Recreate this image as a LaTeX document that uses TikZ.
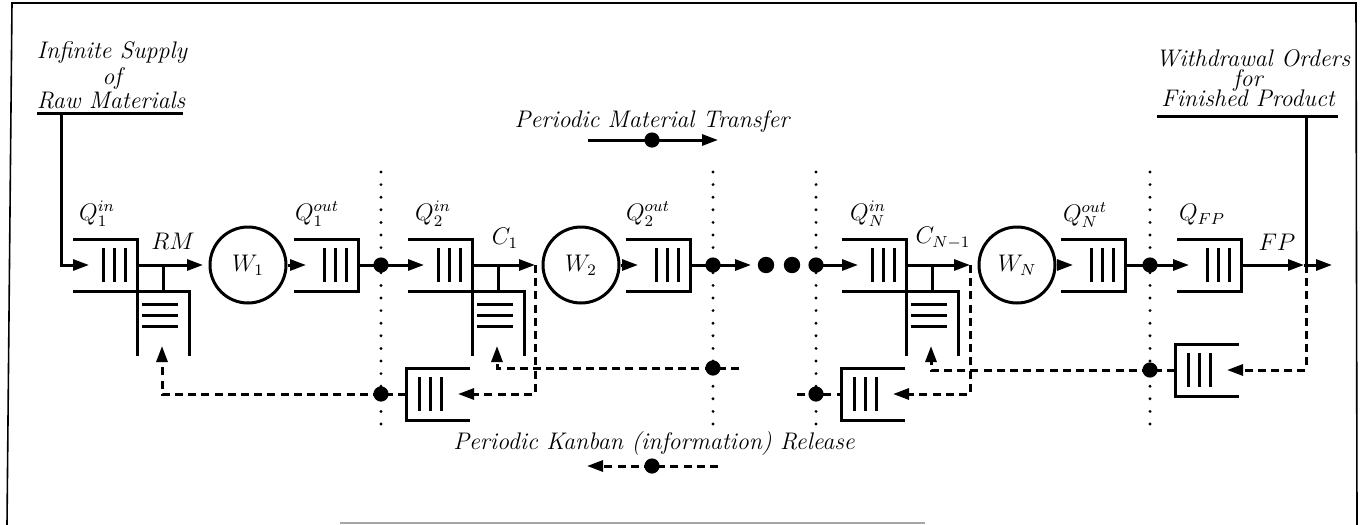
\documentclass[tikz,border=0pt]{standalone}
\usetikzlibrary{arrows.meta}
\tikzset{
  ln/.style={line width=1.5pt},
  dsh/.style={line width=1.5pt, dash pattern=on 4pt off 2.6pt},
  dotl/.style={line width=1.6pt, line cap=round, dash pattern=on 0pt off 6.3pt},
  arr/.style={-{Triangle[length=8pt,width=5.5pt]}},
  frm/.style={line width=0.8pt},
  lbl/.style={inner sep=0pt},
  txt/.style={inner sep=0pt, anchor=base, font=\fontsize{12}{14}\selectfont\itshape},
  wst/.style={circle, draw, line width=1.5pt, minimum size=38pt, inner sep=0pt},
  pics/outq/.style={code={
    \draw[ln] (-64,-26) -- (0,-26) -- (0,26) -- (-64,26);
    \foreach \b in {-34,-23,-12} \draw[ln] (\b,-17) -- (\b,17);
    \coordinate (-in) at (-52,0);
    \coordinate (-out) at (0,0);
  }},
  pics/inq/.style={code={
    \draw[ln] (-64,-26) -- (0,-26) -- (0,91);
    \draw[ln] (-64,26) -- (52,26) -- (52,91);
    \foreach \b in {-34,-23,-12} \draw[ln] (\b,-17) -- (\b,17);
    \foreach \b in {39,50,61} \draw[ln] (5,\b) -- (41,\b);
    \draw[ln] (26,0) -- (26,26);
    \coordinate (-in) at (-48,0);
    \coordinate (-out) at (0,0);
    \coordinate (-kin) at (25,81);
  }},
  pics/cardq/.style={code={
    \draw[ln] (64,-26) -- (0,-26) -- (0,26) -- (64,26);
    \foreach \b in {13,24,35} \draw[ln] (\b,-17) -- (\b,17);
    \coordinate (-in) at (52,0);
    \coordinate (-out) at (0,0);
  }},
}
\begin{document}
\begin{tikzpicture}[x=0.5pt,y=-0.5pt, font=\fontsize{12}{14}\selectfont]
\useasboundingbox (0,0) rectangle (1361,525);
% frame
\draw[frm] (7,525) -- (12,3) -- (1356,3) -- (1357,525);
\draw[frm, black!35] (340,523) -- (925,523);

% dotted separators
\foreach \x in {381,713,816,1150} \draw[dotl] (\x,172) -- (\x,424);

% queues
\pic (q1in) at (137,265) {inq};
\pic (q1out) at (358,265) {outq};
\pic (k1) at (406,394) {cardq};
\pic (q2in) at (472,265) {inq};
\pic (q2out) at (690,265) {outq};
\pic (kN) at (841,394) {cardq};
\pic (qNin) at (906,265) {inq};
\pic (qNout) at (1125,265) {outq};
\pic (qfp) at (1241,265) {outq};
\pic (kfp) at (1175,370) {cardq};

% workstations
\node[wst] (W1) at (248,265) {$W_1$};
\node[wst] (W2) at (581,265) {$W_2$};
\node[wst] (WN) at (1017,265) {$W_N$};

% coordinates
\coordinate (src) at (61,113);
\coordinate (wd) at (1306,116);
\coordinate (wdj) at (1306,265);
\coordinate (rm) at (203,265);
\coordinate (c1) at (535,265);
\coordinate (cN) at (970,265);
\coordinate (fp) at (1304,265);
\coordinate (sink) at (1332,265);
\coordinate (a2) at (751,265);
\coordinate (d1) at (381,265);
\coordinate (d1b) at (381,394);
\coordinate (d2) at (713,265);
\coordinate (d2b) at (713,368);
\coordinate (d3) at (816,265);
\coordinate (d3b) at (816,394);
\coordinate (d4) at (1150,265);
\coordinate (d4b) at (1150,370);
\coordinate (e1) at (766,265);
\coordinate (e2) at (792,265);
\coordinate (s2) at (739,368);
\coordinate (s3) at (797,394);

% material flow
\draw[ln,arr] (src) |- (q1in-in);
\draw[ln,arr] (q1in-out) -- (rm);
\draw[ln,arr] (W1.east) -- (q1out-in);
\draw[ln] (q1out-out) -- (d1);
\draw[ln,arr] (d1) -- (q2in-in);
\draw[ln,arr] (q2in-out) -- (c1);
\draw[ln,arr] (W2.east) -- (q2out-in);
\draw[ln] (q2out-out) -- (d2);
\draw[ln,arr] (d2) -- (a2);
\draw[ln,arr] (d3) -- (qNin-in);
\draw[ln,arr] (qNin-out) -- (cN);
\draw[ln,arr] (WN.east) -- (qNout-in);
\draw[ln] (qNout-out) -- (d4);
\draw[ln,arr] (d4) -- (qfp-in);
\draw[ln,arr] (qfp-out) -- (fp);
\draw[ln,arr] (fp) -- (sink);
\draw[ln] (wd) -- (wdj);

% kanban flow
\draw[dsh,arr] (d1b) -| (q1in-kin);
\draw[dsh] (k1-out) -- (d1b);
\draw[dsh,arr] (c1) |- (k1-in);
\draw[dsh,arr] (s2) -- (d2b) -| (q2in-kin);
\draw[dsh] (s3) -- (d3b) -- (kN-out);
\draw[dsh,arr] (cN) |- (kN-in);
\draw[dsh,arr] (d4b) -| (qNin-kin);
\draw[dsh] (kfp-out) -- (d4b);
\draw[dsh,arr] (wdj) |- (kfp-in);

% dots
\foreach \p in {d1,d1b,d2,d2b,d3,d3b,d4,d4b} \fill (\p) circle[radius=3.8pt];
\foreach \p in {e1,e2} \fill (\p) circle[radius=4.1pt];

% labels
\node[lbl] (lq1in) at (97,214) {$Q_1^{in}$};
\node[lbl] (lrm) at (173,241) {$RM$};
\node[lbl] (lq1out) at (317,214) {$Q_1^{out}$};
\node[lbl] (lq2in) at (433,214) {$Q_2^{in}$};
\node[lbl] (lc1) at (505,238) {$C_1$};
\node[lbl] (lq2out) at (648,214) {$Q_2^{out}$};
\node[lbl] (lqNin) at (868,214) {$Q_N^{in}$};
\node[lbl] (lcN) at (943,238) {$C_{N-1}$};
\node[lbl] (lqNout) at (1085,215) {$Q_N^{out}$};
\node[lbl] (lqfp) at (1202,215) {$Q_{FP}$};
\node[lbl] (lfp) at (1277,242) {$FP$};

% side texts
\node[txt] (sup1) at (112,58) {Infinite Supply};
\node[txt] (sup2) at (112,84) {of};
\node[txt] (sup3) at (111,108) {Raw Materials};
\draw[ln] (37,113) -- (183,113);
\node[txt] (wd1) at (1253,66) {Withdrawal Orders};
\node[txt] (wd2) at (1248,86) {for};
\node[txt] (wd3) at (1248,106) {Finished Product};
\draw[ln] (1157,116) -- (1338,116);

% legends
\node[txt] (lgm) at (652,127) {Periodic Material Transfer};
\coordinate (lgm1) at (588,140);
\coordinate (lgm2) at (718,140);
\coordinate (lgmd) at (652,140);
\draw[ln,arr] (lgm1) -- (lgm2);
\fill (lgmd) circle[radius=3.8pt];
\node[txt] (lgk) at (654,449) {Periodic Kanban (information) Release};
\coordinate (lgk1) at (718,466);
\coordinate (lgk2) at (587,466);
\coordinate (lgkd) at (652,466);
\draw[dsh,arr] (lgk1) -- (lgk2);
\fill (lgkd) circle[radius=3.8pt];
\end{tikzpicture}
\end{document}
